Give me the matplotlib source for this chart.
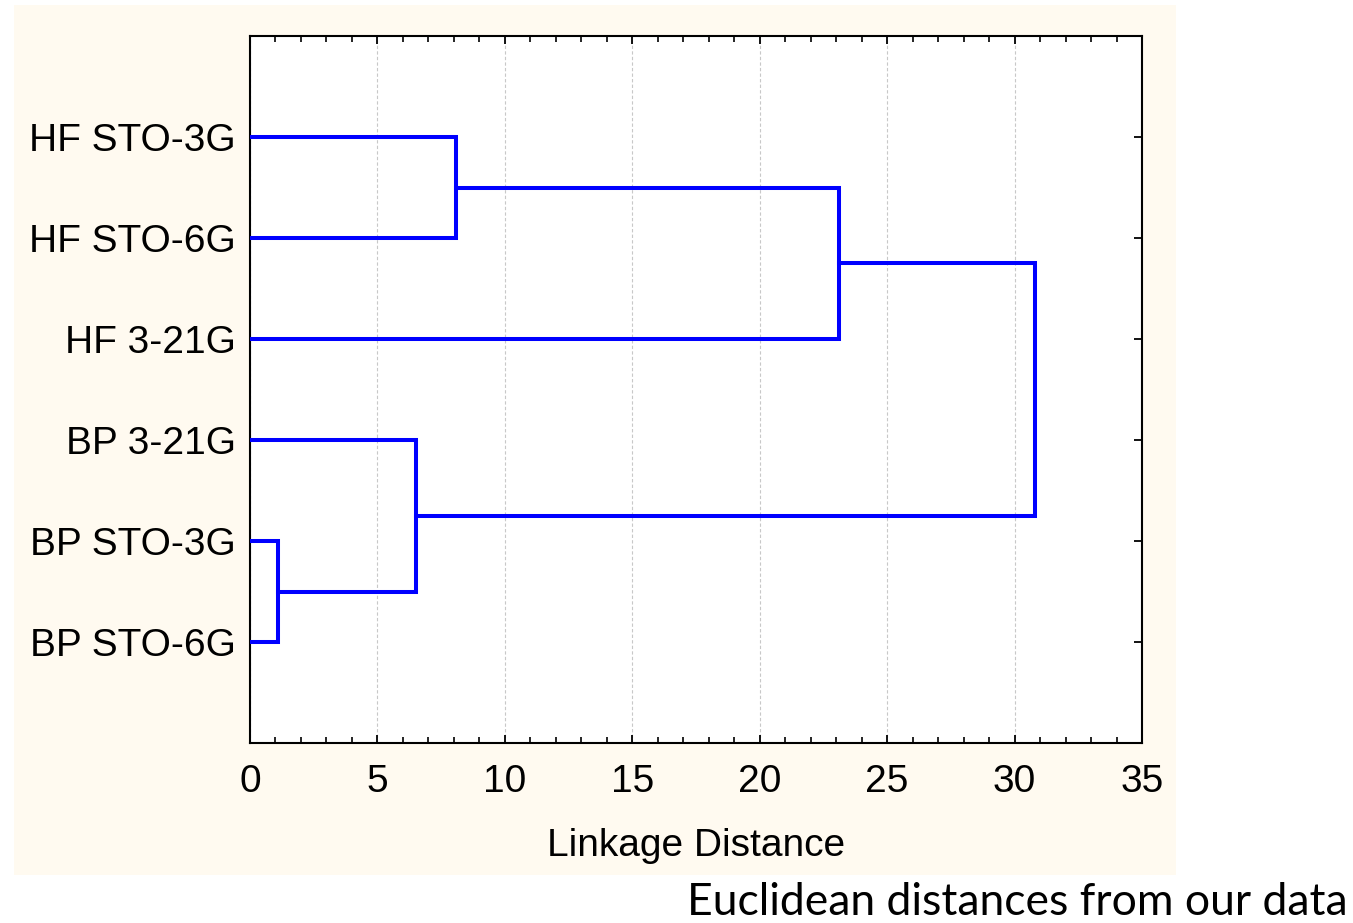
import matplotlib.pyplot as plt
from matplotlib.patches import Rectangle
from matplotlib.ticker import MultipleLocator

# leaves, top to bottom
labels = ["HF STO-3G", "HF STO-6G", "HF 3-21G", "BP 3-21G", "BP STO-3G", "BP STO-6G"]
# merges: (child a, child b, linkage distance); new nodes numbered from 6
merges = [(0, 1, 8.1), (4, 5, 1.1), (6, 2, 23.1), (3, 7, 6.5), (8, 9, 30.8)]
x_ticks = [0, 5, 10, 15, 20, 25, 30, 35]

plt.rcParams['font.family'] = ['Liberation Sans', 'DejaVu Sans']

fig = plt.figure(figsize=(13.53, 9.23), dpi=100)
fig.patches.append(Rectangle((14 / 1353, 1 - 875 / 923), 1162 / 1353, 870 / 923,
                             transform=fig.transFigure, facecolor='#fffaf0',
                             edgecolor='none', zorder=-5))
ax = fig.add_axes([250 / 1353, 1 - 743 / 923, 892 / 1353, 707 / 923])
ax.set_zorder(2)
ax.set_facecolor('white')

# node positions
pos_y = {i: i + 1 for i in range(len(labels))}
pos_x = {i: 0.0 for i in range(len(labels))}
node = len(labels)
for a, b, h in merges:
    ax.plot([pos_x[a], h, h, pos_x[b]], [pos_y[a], pos_y[a], pos_y[b], pos_y[b]],
            color='#0000ff', lw=2.9, solid_joinstyle='miter', zorder=3)
    pos_x[node] = h
    pos_y[node] = (pos_y[a] + pos_y[b]) / 2
    node += 1

ax.set_xlim(0, 35)
ax.set_ylim(7, 0)
ax.set_xticks(x_ticks)
ax.xaxis.set_minor_locator(MultipleLocator(1))
ax.set_yticks(range(1, len(labels) + 1))
ax.set_yticklabels(labels)
ax.grid(axis='x', which='major', color='#c8c8c8', linestyle=(0, (3, 2)), lw=0.8)

ax.tick_params(axis='both', which='major', direction='in', length=6, width=1.3,
               labelsize=28, top=True, right=True, pad=10)
ax.tick_params(axis='x', which='minor', direction='in', length=4, width=1.2, top=True)
ax.tick_params(axis='x', which='major', pad=15)
for s in ax.spines.values():
    s.set_linewidth(1.5)

ax.set_xlabel("Linkage Distance", fontsize=28, labelpad=20)

fig.text(1348 / 1353, 1 - 915 / 923, "Euclidean distances from our data",
         ha='right', va='baseline', fontsize=32, family=['Lato', 'DejaVu Sans'])

fig.savefig('out.png', dpi=100)
